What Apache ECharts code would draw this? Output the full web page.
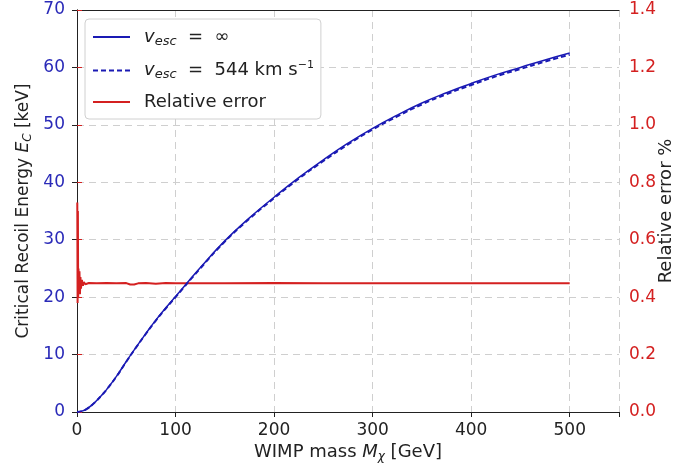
<!DOCTYPE html>
<html lang="en">
<head>
    <meta charset="UTF-8">
    <script src="https://cdn.jsdelivr.net/npm/echarts@6/dist/echarts.min.js"></script>
    <title>Critical recoil energy</title>
</head>
<body style="margin:0;background:#fff;">
<div id="main" style="width: 679px;height:470px;"></div>

<script type="text/javascript">

// WIMP mass [GeV]
var masses = [0, 5, 10, 15, 20, 25, 30, 40, 50, 60, 70, 80, 90, 100, 125, 150, 175, 200,
              225, 250, 275, 300, 325, 350, 375, 400, 425, 450, 475, 500];
// E_C [keV], v_esc = inf
var ecInf = [0, 0.15, 0.55, 1.2, 2.0, 2.9, 3.9, 6.2, 8.8, 11.3, 13.7, 16.0, 18.1, 20.1, 25.1, 29.8, 33.8, 37.4,
             40.8, 43.9, 46.8, 49.4, 51.7, 53.8, 55.6, 57.2, 58.7, 60.0, 61.3, 62.5];
// E_C [keV], v_esc = 544 km/s
var ec544 = [0, 0.15, 0.55, 1.19, 1.99, 2.89, 3.88, 6.17, 8.76, 11.25, 13.64, 15.93, 18.02, 20.01, 24.99, 29.67, 33.65, 37.23,
             40.62, 43.7, 46.59, 49.18, 51.47, 53.56, 55.35, 56.94, 58.44, 59.73, 61.02, 62.22];

// relative error %
var errMass = [0.3, 0.6, 0.9, 1.2, 1.5, 2, 2.5, 3, 3.5, 4, 5, 6, 7, 8.5, 12, 20, 30, 40, 50, 54, 58, 62, 70, 80,
               90, 100, 150, 200, 250, 300, 350, 400, 450, 500];
var errVal = [0.73, 0.38, 0.70, 0.40, 0.50, 0.42, 0.49, 0.41, 0.47, 0.43, 0.46, 0.44, 0.452, 0.445, 0.449, 0.448, 0.449, 0.448, 0.449, 0.444, 0.444, 0.448, 0.449, 0.447,
              0.449, 0.448, 0.448, 0.449, 0.448, 0.448, 0.448, 0.448, 0.448, 0.448];

var xTicks = [0, 100, 200, 300, 400, 500];

var names = ['inf', '544', 'err'];

function pairs(xs, ys) {
    var out = [];
    for (var i = 0; i < xs.length; i++) out.push([xs[i], ys[i]]);
    return out;
}

var blue = '#1a1ab4';
var red = '#d42020';
var FONT = 'DejaVu Sans';

var legendRich = {
    v: {fontFamily: FONT, fontSize: 18, fontStyle: 'italic', color: '#222', lineHeight: 22, padding: [0, 0, 0, 9]},
    s: {fontFamily: FONT, fontSize: 13, fontStyle: 'italic', color: '#222', lineHeight: 13, verticalAlign: 'bottom'},
    sp: {fontFamily: FONT, fontSize: 11, color: '#222', lineHeight: 11, verticalAlign: 'top'},
    t: {fontFamily: FONT, fontSize: 18, color: '#222', lineHeight: 22},
    t0: {fontFamily: FONT, fontSize: 18, color: '#222', lineHeight: 22, padding: [0, 0, 0, 9]}
};

var nameRich = {
    i: {fontFamily: FONT, fontSize: 17, fontStyle: 'italic', color: '#222', lineHeight: 21},
    s: {fontFamily: FONT, fontSize: 12, fontStyle: 'italic', color: '#222', lineHeight: 12, verticalAlign: 'bottom'}
};
var xNameRich = {
    i: {fontFamily: FONT, fontSize: 18, fontStyle: 'italic', color: '#222', lineHeight: 22},
    s: {fontFamily: FONT, fontSize: 12, fontStyle: 'italic', color: '#222', lineHeight: 12, verticalAlign: 'bottom'}
};

var myChart = echarts.init(document.getElementById('main'));

var option = {
    backgroundColor: '#fff',
    animation: false,
    grid: {
        left: 77, right: 60, top: 10, bottom: 58,
        outerBoundsMode: 'none',
        containLabel: false
    },
    legend: {
        left: 85, top: 19,
        orient: 'vertical',
        data: names,
        itemWidth: 37, itemHeight: 14, itemGap: 11.5,
        padding: [9, 7, 8, 7],
        backgroundColor: '#fff',
        borderColor: '#d0d0d0', borderWidth: 1, borderRadius: 4,
        itemStyle: {opacity: 0},
        textStyle: {rich: legendRich},
        formatter: function (n) {
            if (n === 'inf') return '{v|v}{s|esc}{t|  =  \u221e}';
            if (n === '544') return '{v|v}{s|esc}{t|  =  544 km s}{sp|\u22121}';
            return '{t0|Relative error}';
        }
    },
    xAxis: [{
        type: 'value',
        min: 0, max: 550, interval: 100,
        name: 'WIMP mass {i|M}{s|\u03c7} [GeV]',
        nameLocation: 'middle', nameGap: 29, nameMoveOverlap: false,
        nameTextStyle: {fontFamily: FONT, fontSize: 18, color: '#222', rich: xNameRich},
        axisLine: {lineStyle: {color: '#222'}},
        axisTick: {length: 5, lineStyle: {color: '#222'}},
        axisLabel: {
            fontFamily: FONT, fontSize: 17, color: '#222', margin: 10,
            formatter: function (v) { return xTicks.indexOf(v) >= 0 ? String(v) : ''; }
        },
        splitLine: {show: true, lineStyle: {color: '#cfcfcf', type: [7, 5]}}
    }, {
        type: 'value',
        position: 'top',
        min: 0, max: 550,
        axisLine: {show: true, onZero: false, lineStyle: {color: '#222'}},
        axisTick: {show: false},
        axisLabel: {show: false},
        splitLine: {show: false}
    }],
    yAxis: [{
        type: 'value',
        min: 0, max: 70, interval: 10,
        name: 'Critical Recoil Energy {i|E}{s|C} [keV]',
        nameLocation: 'middle', nameGap: 43, nameRotate: 90, nameMoveOverlap: false,
        nameTextStyle: {fontFamily: FONT, fontSize: 17, color: '#222', rich: nameRich},
        axisLine: {show: true, lineStyle: {color: '#222'}},
        axisTick: {show: true, length: 5, lineStyle: {color: '#222'}},
        axisLabel: {fontFamily: FONT, fontSize: 17, color: '#2a2ab8', margin: 12},
        splitLine: {show: true, lineStyle: {color: '#cfcfcf', type: [7, 5]}}
    }, {
        type: 'value',
        position: 'right',
        min: 0, max: 1.4, interval: 0.2,
        name: 'Relative error %',
        nameLocation: 'middle', nameGap: 38, nameRotate: 90, nameMoveOverlap: false,
        nameTextStyle: {fontFamily: FONT, fontSize: 18, color: '#222'},
        axisLine: {show: true, lineStyle: {color: '#222'}},
        axisTick: {show: true, length: 5, lineStyle: {color: red}},
        axisLabel: {
            fontFamily: FONT, fontSize: 17, color: red, margin: 10,
            formatter: function (v) { return v.toFixed(1); }
        },
        splitLine: {show: false}
    }],
    series: [{
        name: 'inf',
        type: 'line',
        data: pairs(masses, ecInf),
        smooth: true,
        symbol: 'none',
        lineStyle: {color: blue, width: 1.5},
        itemStyle: {color: blue},
        z: 3
    }, {
        name: '544',
        type: 'line',
        data: pairs(masses, ec544),
        smooth: true,
        symbol: 'none',
        lineStyle: {color: blue, width: 2, type: [5, 3]},
        itemStyle: {color: blue},
        z: 4
    }, {
        name: 'err',
        type: 'line',
        yAxisIndex: 1,
        data: pairs(errMass, errVal),
        symbol: 'none',
        lineStyle: {color: red, width: 2},
        itemStyle: {color: red},
        z: 2
    }]
};

myChart.setOption(option);
</script>
</body>
</html>
